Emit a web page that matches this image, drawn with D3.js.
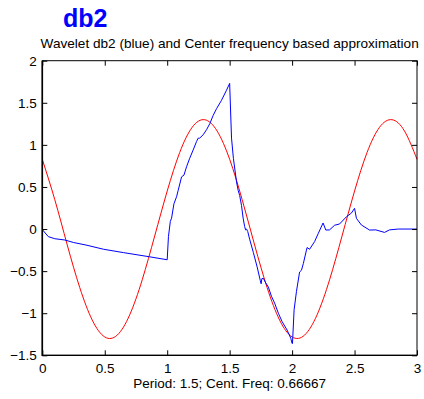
<!DOCTYPE html>
<html><head><meta charset="utf-8">
<script src="https://cdn.jsdelivr.net/npm/d3@7"></script>
<style>
html,body{margin:0;padding:0;background:#fff;}
svg{display:block;font-family:"Liberation Sans",Arial,Helvetica,sans-serif;}
</style></head>
<body>
<svg id="chart" width="424" height="399"></svg>
<script>
// Blue: db2 wavelet
const waveletX = [0,0.008,0.048,0.1,0.18,0.25,0.35,0.49,0.65,0.86,1.0,1.01,1.025,1.035,1.054,1.075,1.088,1.115,1.134,1.155,1.18,1.208,1.235,1.248,1.26,1.288,1.315,1.342,1.368,1.395,1.435,1.475,1.5,1.515,1.53,1.555,1.568,1.58,1.595,1.608,1.62,1.628,1.635,1.645,1.66,1.69,1.72,1.745,1.752,1.758,1.77,1.785,1.81,1.835,1.86,1.89,1.92,1.96,1.99,2.0,2.003,2.016,2.035,2.06,2.075,2.09,2.115,2.12,2.14,2.18,2.21,2.248,2.27,2.3,2.34,2.38,2.435,2.475,2.5,2.515,2.555,2.62,2.67,2.74,2.78,2.85,2.92,3.0];
const waveletY = [0,-0.02,-0.09,-0.115,-0.13,-0.16,-0.19,-0.24,-0.28,-0.33,-0.365,-0.09,0.09,0.13,0.3,0.384,0.46,0.62,0.64,0.74,0.84,0.94,1.04,1.08,1.08,1.12,1.18,1.255,1.35,1.43,1.53,1.65,1.73,1.08,0.84,0.56,0.46,0.4,0.28,0.13,0.03,-0.01,0.0,-0.03,-0.12,-0.28,-0.45,-0.61,-0.65,-0.59,-0.585,-0.63,-0.69,-0.8,-0.88,-1.0,-1.1,-1.2,-1.3,-1.36,-1.36,-0.96,-0.74,-0.51,-0.49,-0.41,-0.25,-0.22,-0.24,-0.15,-0.05,0.072,-0.012,-0.01,0.045,0.06,0.146,0.19,0.246,0.127,0.048,-0.012,-0.01,-0.04,-0.01,0.0,0.0,0.0];
// Red: centre-frequency approximation
const approxX = [0,0.1,0.2,0.3,0.4,0.5,0.6,0.7,0.8,0.9,1.0,1.1,1.2,1.3,1.4,1.5,1.6,1.7,1.8,1.9,2.0,2.1,2.2,2.3,2.4,2.5,2.6,2.7,2.8,2.9,3.0];
const approxY = [0.828,0.349,-0.19,-0.696,-1.082,-1.282,-1.26,-1.019,-0.603,-0.082,0.451,0.909,1.209,1.299,1.164,0.829,0.35,-0.19,-0.696,-1.082,-1.282,-1.26,-1.019,-0.603,-0.082,0.451,0.909,1.209,1.299,1.164,0.829];
const xTicks = [0,0.5,1,1.5,2,2.5,3];
const xTickLabels = ["0","0.5","1","1.5","2","2.5","3"];
const yTicks = [-1.5,-1,-0.5,0,0.5,1,1.5,2];
const yTickLabels = ["\u22121.5","\u22121","\u22120.5","0","0.5","1","1.5","2"];
const figTitle = "db2";
const plotTitle = "Wavelet db2 (blue) and Center frequency based approximation";
const xLabel = "Period: 1.5; Cent. Freq: 0.66667";

const svg = d3.select("#chart");
const L = 42.3, R = 417, T = 60.7, B = 355.3;
const x = d3.scaleLinear().domain([0,3]).range([L,R]);
const y = d3.scaleLinear().domain([-1.5,2]).range([B,T]);

const waveData = waveletX.map((v,i)=>[v,waveletY[i]]);
const approxData = approxX.map((v,i)=>[v,approxY[i]]);

const g = svg.append("g");
g.append("path").datum(approxData)
  .attr("d", d3.line().x(d=>x(d[0])).y(d=>y(d[1])).curve(d3.curveNatural))
  .attr("fill","none").attr("stroke","#ff0000").attr("stroke-width",1);
g.append("path").datum(waveData)
  .attr("d", d3.line().x(d=>x(d[0])).y(d=>y(d[1])))
  .attr("fill","none").attr("stroke","#0000ff").attr("stroke-width",1).attr("stroke-linejoin","round");

const fs = 13.5;
function styleAxis(sel){
  sel.select(".domain").remove();
  sel.selectAll("line").attr("stroke","#000").attr("stroke-width",1);
  sel.selectAll("text").attr("font-size",fs).attr("fill","#000").attr("font-family",null);
}
svg.append("g").attr("transform",`translate(0,${B})`)
  .call(d3.axisBottom(x).tickValues(xTicks).tickSize(-5).tickPadding(8.5).tickFormat((d,i)=>xTickLabels[i]))
  .call(styleAxis);
svg.append("g").attr("transform",`translate(0,${T})`)
  .call(d3.axisTop(x).tickValues(xTicks).tickSize(-5).tickFormat(""))
  .call(styleAxis);
svg.append("g").attr("transform",`translate(${L},0)`)
  .call(d3.axisLeft(y).tickValues(yTicks).tickSize(-5).tickPadding(5.5).tickFormat((d,i)=>yTickLabels[i]))
  .call(styleAxis);
svg.append("g").attr("transform",`translate(${R},0)`)
  .call(d3.axisRight(y).tickValues(yTicks).tickSize(-5).tickFormat(""))
  .call(styleAxis);

svg.append("rect").attr("x",L).attr("y",T).attr("width",R-L).attr("height",B-T)
  .attr("fill","none").attr("stroke","#000").attr("stroke-width",1);
svg.append("line").attr("x1",L).attr("x2",L).attr("y1",T).attr("y2",B+0.6)
  .attr("stroke","#000").attr("stroke-width",1.6);
svg.append("line").attr("x1",L).attr("x2",R).attr("y1",B).attr("y2",B)
  .attr("stroke","#000").attr("stroke-width",1.3);

svg.append("text").attr("x",63).attr("y",26.5).attr("font-size",25).attr("font-weight","bold")
  .attr("fill","#0000ff").text(figTitle);
svg.append("text").attr("x",(L+R)/2).attr("y",48).attr("text-anchor","middle")
  .attr("font-size",13.6).attr("fill","#000").text(plotTitle);
svg.append("text").attr("x",(L+R)/2).attr("y",388).attr("text-anchor","middle")
  .attr("font-size",fs).attr("fill","#000").text(xLabel);
</script>
</body></html>
